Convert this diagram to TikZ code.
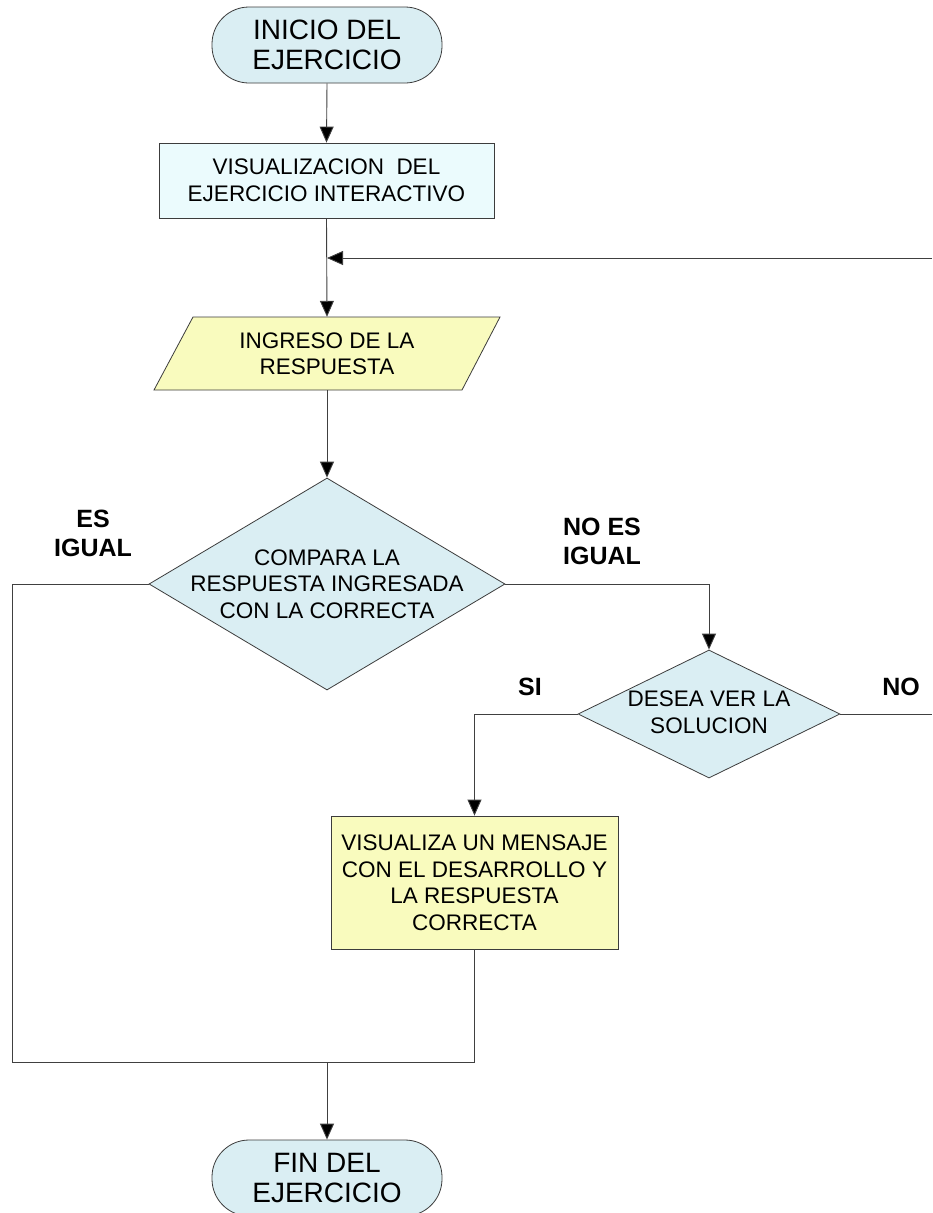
\documentclass[tikz,border=0pt]{standalone}
\usepackage{fontspec}
\setmainfont{Liberation Sans}
\usetikzlibrary{arrows.meta,shapes.geometric,calc}
\definecolor{termfill}{HTML}{DAEEF3}
\definecolor{visfill}{HTML}{EBFBFD}
\definecolor{yelfill}{HTML}{F9FBBE}
\definecolor{diafill}{HTML}{DAEEF3}
\definecolor{edgecol}{HTML}{3C3C3C}
\definecolor{linecol}{HTML}{404040}
\begin{document}
\begin{tikzpicture}[x=1pt,y=-1pt,
  every node/.style={font=\fontsize{22.5}{26.5}\selectfont, align=center, inner sep=0pt},
  terminal/.style={draw=edgecol, line width=0.8pt, fill=termfill, rounded corners=37pt,
    minimum width=230pt, minimum height=76pt, font=\fontsize{28}{30.5}\selectfont},
  procbox/.style={draw=edgecol, line width=0.8pt, rectangle},
  decision/.style={draw=edgecol, line width=0.8pt, fill=diafill, diamond},
  lbl/.style={font=\bfseries\fontsize{25}{29}\selectfont},
  conn/.style={draw=linecol, line width=0.9pt},
  arr/.style={conn, -{Triangle[width=14pt,length=16pt,fill=black]}}]
\clip (0,0) rectangle (932,1213);
\fill[white] (0,0) rectangle (932,1213);

% start
\node[terminal] (inicio) at (327,45) {INICIO DEL\\EJERCICIO};

% show the exercise
\node[procbox, fill=visfill, minimum width=335pt, minimum height=75pt] (vis) at (326.5,180.5)
  {VISUALIZACION\ \ DEL\\EJERCICIO INTERACTIVO};

% answer input (parallelogram)
\filldraw[draw=edgecol, line width=0.8pt, fill=yelfill]
  (193,317) -- (500,317) -- (462,390) -- (154,390) -- cycle;
\node[minimum width=307pt, minimum height=73pt] (ingreso) at (327,353.5) {INGRESO DE LA\\RESPUESTA};

% compare answer
\node[decision, minimum width=356pt, minimum height=212pt] (cmp) at (327,584) {};
\node at (cmp.center) {COMPARA LA\\RESPUESTA INGRESADA\\CON LA CORRECTA};

% ask for solution
\node[decision, minimum width=262pt, minimum height=128pt] (desea) at (709,714) {};
\node at ($(desea.center)+(0,-2)$) {DESEA VER LA\\SOLUCION};

% show solution message
\node[procbox, fill=yelfill, minimum width=287pt, minimum height=133pt] (msg) at (474.5,882.5)
  {VISUALIZA UN MENSAJE\\CON EL DESARROLLO Y\\LA RESPUESTA\\CORRECTA};

% end
\node[terminal] (fin) at (327,1178) {FIN DEL\\EJERCICIO};

% helper points
\coordinate (merge) at (327,258);
\coordinate (loopIn) at (932,258);
\coordinate (noEnd) at (932,714);
\coordinate (join) at (327,1062);
\coordinate (leftX) at (12,584);

% connectors
\draw[arr] (inicio.south) -- (vis.north);
\draw[arr] (vis.south) -- (ingreso.north);
\draw[arr] (loopIn) -- (merge);
\draw[arr] (ingreso.south) -- (cmp.north);
\draw[conn] (cmp.west) -- (leftX) |- (join);
\draw[arr] (cmp.east) -| (desea.north);
\draw[arr] (desea.west) -| (msg.north);
\draw[conn] (desea.east) -- (noEnd);
\draw[conn] (msg.south) |- (join);
\draw[arr] (join) -- (fin.north);

% branch labels
\node[lbl] (esIgual) at (93,533) {ES\\IGUAL};
\node[lbl] (noIgual) at (602,541) {NO ES\\IGUAL};
\node[lbl] (si) at (530,687) {SI};
\node[lbl] (no) at (901,687) {NO};
\end{tikzpicture}
\end{document}
